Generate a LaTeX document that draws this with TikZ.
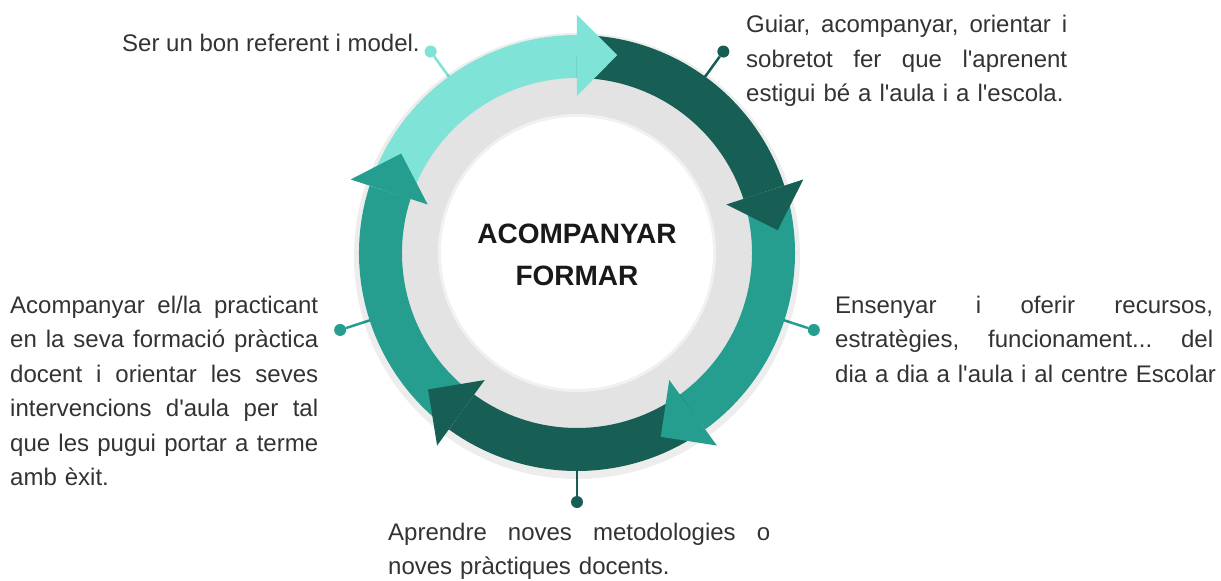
\documentclass[tikz,border=0pt]{standalone}
\usepackage{fontspec}
\newfontfamily\txtfont{Liberation Sans}[Ligatures=TeXOff]
\usetikzlibrary{positioning}

\definecolor{lightteal}{HTML}{80E3D7}
\definecolor{darkgreen}{HTML}{175E55}
\definecolor{midteal}{HTML}{259E90}
\definecolor{ringgray}{HTML}{E3E3E3}
\definecolor{txtgray}{HTML}{333333}

\newcommand{\labelfont}{\txtfont\fontsize{24}{34.5}\selectfont\frenchspacing\hyphenpenalty=10000\relax}
% one justified line of a text block
\newcommand{\jline}[1]{\leavevmode\hbox to \hsize{\spaceskip=\fontdimen2\font plus 1fil\relax #1}\\}

\tikzset{
  band/.style={line width=43pt},
  pin dot/.style={circle, inner sep=0pt, minimum size=12pt},
  pin line/.style={line width=2.5pt},
  label text/.style={font=\labelfont, text=txtgray, inner sep=0pt, anchor=base west},
}

\begin{document}
\begin{tikzpicture}[x=1pt,y=1pt]
\useasboundingbox[fill=white] (-577,-328) rectangle (644,253);
\coordinate (hub) at (0,0);

% pins
\foreach \a/\c/\n in {126/lightteal/1, 54/darkgreen/2, -18/midteal/3, -90/darkgreen/4, 198/midteal/5} {
  \coordinate (r\n) at (\a:214);
  \node[pin dot, fill=\c] (d\n) at (\a:249) {};
  \draw[pin line, \c] (r\n) -- (d\n);
}

% disc and ring
\fill[black, opacity=.07] (0,-3) circle[radius=223];
\fill[ringgray] (hub) circle[radius=176];
\fill[ringgray!50] (hub) circle[radius=139];
\fill[white] (hub) circle[radius=136];
\foreach \from/\to/\c in {162/90/lightteal, 90/18/darkgreen, 18/-54/midteal, -54/-126/darkgreen, -126/-198/midteal}
  \draw[band, \c] (\from:196.5) arc[start angle=\from, end angle=\to, radius=196.5];
\foreach \at/\c in {90/lightteal, 18/darkgreen, -54/midteal, -126/darkgreen, 162/midteal}
  \fill[\c] (\at:157) -- (\at:238) -- ({\at-11.5}:202) -- cycle;

\node[font=\txtfont\bfseries\fontsize{28}{42}\selectfont, text=black!90, inner sep=0pt,
  text width=260pt, align=center, anchor=base] (core) at (0,10) {ACOMPANYAR\\FORMAR};

% texts
\node[label text] (model) at (-455,201) {Ser un bon referent i model.};
\node[label text, text width=321pt] (guide) at (169,220) {%
  \jline{Guiar, acompanyar, orientar i}
  \jline{sobretot fer que l'aprenent}
  \mbox{estigui bé a l'aula i a l'escola.}};
\node[label text, text width=378pt] (teach) at (258,-60) {%
  \jline{Ensenyar i oferir recursos,}
  \jline{estratègies, funcionament... del}
  \mbox{dia a dia a l'aula i al centre Escolar}};
\node[label text, text width=382pt] (learn) at (-189,-287) {%
  \jline{Aprendre noves metodologies o}
  \mbox{noves pràctiques docents.}};
\node[label text, text width=308pt] (assist) at (-567,-60) {%
  \jline{Acompanyar el/la practicant}
  \jline{en la seva formació pràctica}
  \jline{docent i orientar les seves}
  \jline{intervencions d'aula per tal}
  \jline{que les pugui portar a terme}
  \mbox{amb èxit.}};
\end{tikzpicture}
\end{document}
